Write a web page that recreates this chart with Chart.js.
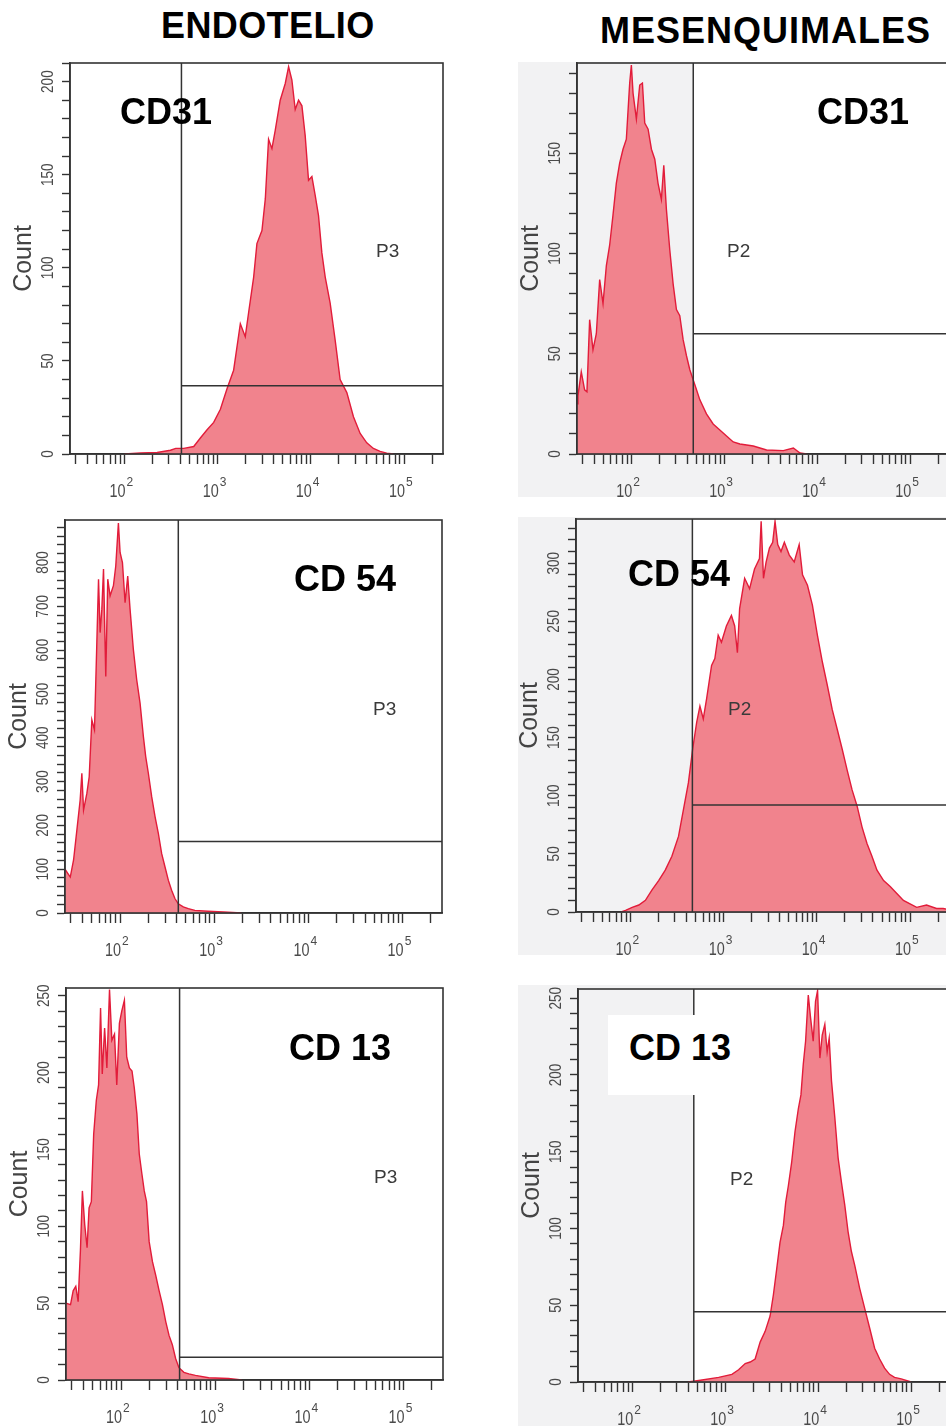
<!DOCTYPE html>
<html>
<head>
<meta charset="utf-8">
<script src="https://cdn.jsdelivr.net/npm/chart.js@4.4.0/dist/chart.umd.min.js"></script>
<style>
html, body { margin: 0; padding: 0; background: #fff; }
#page { position: relative; width: 946px; height: 1426px; overflow: hidden; background: #fff;
        font-family: "Liberation Sans", Arial, sans-serif; }
.gray { position: absolute; background: #f2f2f3; }
canvas { position: absolute; }
.head { position: absolute; font-weight: bold; font-size: 36px; line-height: 36px; color: #000;
        white-space: nowrap; letter-spacing: 0.4px; }
.cd { position: absolute; font-weight: bold; font-size: 36px; line-height: 36px; color: #000; white-space: nowrap; }
.gate { position: absolute; font-size: 19px; line-height: 19px; color: #3a3a3a; }
</style>
</head>
<body>
<div id="page">
  <div class="gray" style="left:518px;top:62px;width:428px;height:435px"></div>
  <div class="gray" style="left:518px;top:517px;width:428px;height:438px"></div>
  <div class="gray" style="left:518px;top:985px;width:428px;height:441px"></div>

  <div class="head" style="left:161px;top:8px">ENDOTELIO</div>
  <div class="head" style="left:600px;top:13px;letter-spacing:1px">MESENQUIMALES</div>

  <canvas id="c0"></canvas>
  <canvas id="c1"></canvas>
  <canvas id="c2"></canvas>
  <canvas id="c3"></canvas>
  <canvas id="c4"></canvas>
  <canvas id="c5"></canvas>

  <div class="gate" style="left:376px;top:241px">P3</div>
  <div class="gate" style="left:727px;top:241px">P2</div>
  <div class="gate" style="left:373px;top:699px">P3</div>
  <div class="gate" style="left:728px;top:699px">P2</div>
  <div class="gate" style="left:374px;top:1167px">P3</div>
  <div class="gate" style="left:730px;top:1169px">P2</div>

  <div class="cd" style="left:120px;top:94px">CD31</div>
  <div class="cd" style="left:817px;top:94px">CD31</div>
  <div class="cd" style="left:294px;top:561px">CD 54</div>
  <div class="cd" style="left:628px;top:556px">CD 54</div>
  <div class="cd" style="left:289px;top:1030px">CD 13</div>
  <div class="cd" style="left:608px;top:1015px;width:124px;height:65px;padding:15px 0 0 21px;background:#fff">CD 13</div>
</div>

<script>
// x values are log10 of fluorescence, y values are counts
const endoCd31X = [2.0, 2.171, 2.35, 2.493, 2.55, 2.636, 2.743, 2.814, 2.886, 2.957, 3.029, 3.1, 3.171, 3.243, 3.296,
  3.332, 3.386, 3.421, 3.475, 3.511, 3.546, 3.582, 3.618, 3.671, 3.725, 3.761, 3.796, 3.832, 3.868, 3.904,
  3.939, 3.975, 4.011, 4.046, 4.082, 4.118, 4.154, 4.207, 4.261, 4.314, 4.386, 4.457, 4.529, 4.6, 4.671,
  4.743, 4.814, 4.886];
const endoCd31Y = [0, 0.5, 0.8, 2, 3, 3, 4, 8.6, 13, 17, 24, 35, 45, 70, 63,
  76, 95, 113, 120, 137, 169, 164, 174, 190, 199, 208, 201, 185, 190, 187,
  171, 147, 149, 139, 128, 108, 95, 81, 61, 40, 33, 20, 11, 6, 3,
  1.4, 0.5, 0];

const mesCd31X = [1.415, 1.425, 1.461, 1.497, 1.522, 1.551, 1.587, 1.623, 1.659, 1.695, 1.731, 1.766, 1.802, 1.838, 1.874,
  1.910, 1.946, 1.982, 2.0, 2.018, 2.054, 2.090, 2.119, 2.144, 2.180, 2.216, 2.252, 2.287, 2.323, 2.349,
  2.377, 2.413, 2.449, 2.485, 2.521, 2.557, 2.593, 2.629, 2.665, 2.701, 2.737, 2.808, 2.880, 2.952, 3.024,
  3.096, 3.168, 3.312, 3.455, 3.635, 3.743, 3.815, 3.886];
const mesCd31Y = [25, 29, 41, 32, 31, 67, 52, 60, 87, 75, 94, 104, 119, 135, 145,
  152, 157, 185, 194, 180, 167, 184, 185, 165, 162, 152, 147, 135, 127, 144,
  122, 102, 85, 72, 69, 57, 49, 42, 37, 32, 27, 20, 15, 12, 9,
  6, 5, 4, 2, 1.7, 3, 0.5, 0];

const endoCd54X = [1.415, 1.446, 1.471, 1.506, 1.541, 1.576, 1.594, 1.612, 1.647, 1.672, 1.700, 1.728, 1.753, 1.771, 1.788,
  1.806, 1.824, 1.848, 1.869, 1.894, 1.929, 1.954, 1.982, 2.0, 2.025, 2.053, 2.081, 2.106, 2.141, 2.176,
  2.212, 2.247, 2.272, 2.300, 2.335, 2.371, 2.406, 2.441, 2.477, 2.512, 2.547, 2.582, 2.618, 2.671, 2.724,
  2.794, 2.935, 3.147, 3.288];
const endoCd54Y = [100, 90, 82, 121, 189, 258, 319, 235, 273, 311, 441, 418, 617, 762, 640,
  693, 785, 540, 762, 724, 747, 792, 890, 823, 800, 708, 769, 693, 601, 533,
  479, 403, 357, 319, 266, 220, 182, 136, 105, 75, 52, 33, 21, 14, 10,
  6, 4, 2, 0];

const mesCd54X = [1.9, 1.947, 2.018, 2.089, 2.160, 2.231, 2.302, 2.373, 2.444, 2.515, 2.568, 2.621, 2.667, 2.710, 2.745,
  2.781, 2.816, 2.870, 2.905, 2.941, 2.976, 3.029, 3.083, 3.118, 3.147, 3.171, 3.225, 3.278, 3.331, 3.384,
  3.402, 3.427, 3.455, 3.491, 3.526, 3.551, 3.580, 3.615, 3.651, 3.704, 3.757, 3.810, 3.846, 3.899, 3.952,
  4.006, 4.059, 4.112, 4.165, 4.219, 4.272, 4.325, 4.378, 4.432, 4.485, 4.538, 4.591, 4.645, 4.716, 4.787,
  4.858, 4.929, 5.0, 5.071, 5.177, 5.284, 5.355, 5.418];
const mesCd54Y = [0, 1.4, 4, 6, 10, 19, 27, 36, 48, 65, 88, 111, 140, 163, 177,
  166, 183, 212, 218, 238, 232, 246, 255, 246, 223, 261, 287, 278, 295, 304,
  336, 287, 301, 313, 318, 336, 316, 310, 318, 307, 301, 316, 290, 281, 264,
  238, 215, 195, 174, 157, 140, 122, 105, 91, 73, 59, 48, 36, 27, 22,
  16, 10, 7, 4, 6, 3, 3, 2];

const endoCd13X = [1.415, 1.463, 1.491, 1.519, 1.544, 1.568, 1.589, 1.614, 1.639, 1.660, 1.684, 1.709, 1.737, 1.761, 1.782,
  1.800, 1.825, 1.849, 1.877, 1.902, 1.930, 1.954, 1.982, 2.007, 2.035, 2.060, 2.088, 2.116, 2.140, 2.168,
  2.193, 2.221, 2.246, 2.270, 2.298, 2.333, 2.368, 2.404, 2.439, 2.474, 2.509, 2.544, 2.579, 2.614, 2.667,
  2.719, 2.789, 2.930, 3.140, 3.281];
const endoCd13Y = [50, 49, 58, 61, 51, 84, 123, 101, 86, 112, 116, 160, 182, 192, 242,
  199, 229, 203, 254, 221, 225, 192, 232, 240, 247, 210, 203, 201, 190, 173,
  147, 134, 123, 116, 90, 77, 68, 58, 49, 38, 29, 23, 14, 8, 5,
  4, 3, 1.5, 1, 0];

const mesCd13X = [2.6, 2.714, 2.929, 3.071, 3.143, 3.214, 3.268, 3.321, 3.375, 3.429, 3.482, 3.518, 3.554, 3.589, 3.625,
  3.65, 3.679, 3.714, 3.75, 3.786, 3.814, 3.839, 3.864, 3.893, 3.918, 3.946, 3.971, 3.993, 4.018, 4.043,
  4.071, 4.096, 4.118, 4.143, 4.179, 4.214, 4.25, 4.286, 4.321, 4.357, 4.393, 4.446, 4.5, 4.554, 4.607,
  4.661, 4.714, 4.768, 4.821, 4.893, 5.0];
const mesCd13Y = [0, 1, 3, 5, 8, 12, 13, 15, 26, 33, 43, 57, 74, 91, 102,
  117, 128, 143, 163, 178, 187, 207, 222, 252, 237, 222, 248, 255, 211, 226,
  233, 215, 224, 196, 172, 146, 130, 115, 98, 85, 76, 61, 48, 35, 22,
  15, 9, 5, 3, 2, 0];

// gates (vertical threshold in log10 units, horizontal marker in counts)
const gateX = [2.611, 2.666, 2.618, 2.664, 2.621, 2.661];
const gateY = [36.7, 60, 163, 92, 14.8, 45.7];
// y ranges and tick spacing
const yMax = [210, 195, 897, 338, 255, 256];
const yLabelStep = [50, 50, 100, 50, 50, 50];
const yTickStep = [10, 10, 20, 10, 10, 10];
// x axis: log decades 10^1.415 .. 262144
const xMin = 1.415, xMax = 5.418;
const xDecades = [2, 3, 4, 5];

const seriesX = [endoCd31X, mesCd31X, endoCd54X, mesCd54X, endoCd13X, mesCd13X];
const seriesY = [endoCd31Y, mesCd31Y, endoCd54Y, mesCd54Y, endoCd13Y, mesCd13Y];

// plot box of each panel on the page: left, top, right, bottom
const boxes = [
  [70, 63, 443, 454], [577, 63, 949, 454],
  [65, 520, 442, 913], [576, 519, 949, 912],
  [66, 988, 443, 1380], [578, 989, 950, 1382]
];
const PAD_TOP = 15, PAD_RIGHT = 20, Y_W = 70, X_H = 60;
const FONT = '"Liberation Sans", Arial, sans-serif';

const xTickValues = [];
for (let d = 1; d <= 5; d++) {
  for (let m = 1; m <= 9; m++) {
    const v = d + Math.log10(m);
    if (v >= xMin && v <= xMax) xTickValues.push(v);
  }
}

const panelDeco = {
  id: 'panelDeco',
  beforeDraw(chart, args, opts) {
    if (!opts.whiteRight) return;
    const a = chart.chartArea, ctx = chart.ctx;
    const gx = chart.scales.x.getPixelForValue(opts.gate);
    ctx.save();
    ctx.fillStyle = '#ffffff';
    ctx.fillRect(gx, a.top, a.right - gx, a.bottom - a.top);
    ctx.restore();
  },
  afterDraw(chart, args, opts) {
    const a = chart.chartArea, ctx = chart.ctx;
    const xs = chart.scales.x, ys = chart.scales.y;
    ctx.save();
    ctx.strokeStyle = '#333';
    ctx.lineWidth = 1.6;
    ctx.strokeRect(a.left, a.top, a.right - a.left, a.bottom - a.top);

    // x labels 10^n
    ctx.fillStyle = '#4a4a4a';
    for (const d of xDecades) {
      const px = xs.getPixelForValue(d);
      ctx.save();
      ctx.font = '18px ' + FONT;
      ctx.textAlign = 'right';
      ctx.textBaseline = 'alphabetic';
      ctx.translate(px + 1, a.bottom + 43);
      ctx.scale(0.8, 1);
      ctx.fillText('10', 0, 0);
      ctx.restore();
      ctx.font = '12px ' + FONT;
      ctx.textAlign = 'left';
      ctx.fillText(String(d), px + 2, a.bottom + 32);
    }

    // rotated y labels
    ctx.font = '17px ' + FONT;
    ctx.textAlign = 'center';
    ctx.textBaseline = 'middle';
    for (let v = 0; v <= opts.yMax; v += opts.labelStep) {
      const py = ys.getPixelForValue(v);
      ctx.save();
      ctx.translate(a.left - 22, py);
      ctx.rotate(-Math.PI / 2);
      ctx.scale(0.8, 1);
      ctx.fillText(String(v), 0, 0);
      ctx.restore();
    }
    ctx.restore();
  }
};

for (let i = 0; i < 6; i++) {
  const [l, t, r, b] = boxes[i];
  const cv = document.getElementById('c' + i);
  cv.width = (r - l) + Y_W + PAD_RIGHT;
  cv.height = (b - t) + PAD_TOP + X_H;
  cv.style.left = (l - Y_W) + 'px';
  cv.style.top = (t - PAD_TOP) + 'px';

  const n = Math.min(seriesX[i].length, seriesY[i].length);
  const pts = [];
  for (let k = 0; k < n; k++) pts.push({ x: seriesX[i][k], y: seriesY[i][k] });

  const yTicks = [];
  for (let v = 0; v <= yMax[i]; v += yTickStep[i]) yTicks.push({ value: v });

  new Chart(cv.getContext('2d'), {
    type: 'line',
    data: {
      datasets: [
        { data: [{ x: gateX[i], y: 0 }, { x: gateX[i], y: yMax[i] }],
          borderColor: '#333', borderWidth: 1.5, pointRadius: 0, fill: false, order: 0 },
        { data: [{ x: gateX[i], y: gateY[i] }, { x: xMax, y: gateY[i] }],
          borderColor: '#333', borderWidth: 1.5, pointRadius: 0, fill: false, order: 0 },
        { data: pts, borderColor: 'rgb(226,28,58)', backgroundColor: 'rgb(241,131,141)',
          borderWidth: 1.4, pointRadius: 0, fill: 'origin', tension: 0, order: 1 }
      ]
    },
    options: {
      responsive: false,
      animation: false,
      devicePixelRatio: 1,
      events: [],
      layout: { padding: { left: 0, top: PAD_TOP, right: PAD_RIGHT, bottom: 0 } },
      plugins: {
        legend: { display: false },
        tooltip: { enabled: false },
        panelDeco: { gate: gateX[i], whiteRight: i % 2 === 1, yMax: yMax[i], labelStep: yLabelStep[i] }
      },
      scales: {
        x: {
          type: 'linear', min: xMin, max: xMax, position: 'bottom',
          grid: { drawOnChartArea: false, drawTicks: true, tickLength: 10, tickColor: '#333', tickWidth: 1.4 },
          border: { display: true, color: '#333', width: 1.6 },
          ticks: { display: false, autoSkip: false },
          afterBuildTicks: s => { s.ticks = xTickValues.map(v => ({ value: v })); },
          afterFit: s => { s.height = X_H; }
        },
        y: {
          type: 'linear', min: 0, max: yMax[i], position: 'left',
          grid: { drawOnChartArea: false, drawTicks: true, tickLength: 8, tickColor: '#333', tickWidth: 1.4 },
          border: { display: true, color: '#333', width: 1.6 },
          ticks: { display: false, autoSkip: false },
          title: { display: true, text: 'Count', color: '#444',
                   font: { size: 25, family: FONT, lineHeight: 1 }, padding: { top: 12, bottom: 0 } },
          afterBuildTicks: s => { s.ticks = yTicks.slice(); },
          afterFit: s => { s.width = Y_W; }
        }
      }
    },
    plugins: [panelDeco]
  });
}
</script>
</body>
</html>
